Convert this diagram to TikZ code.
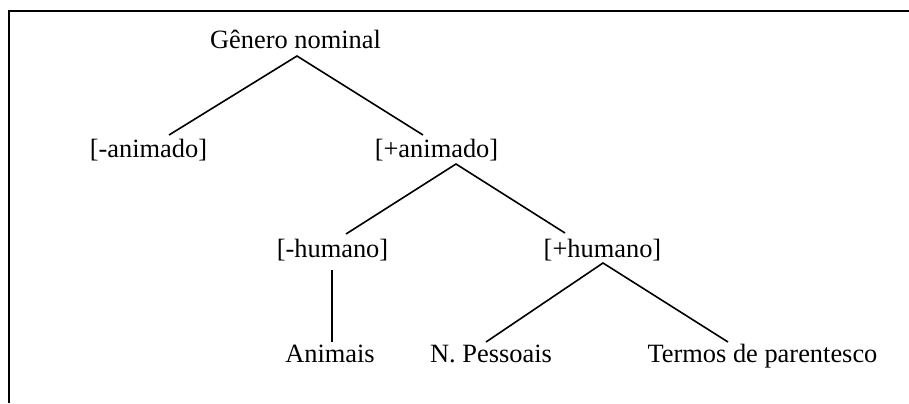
\documentclass[tikz,border=0pt]{standalone}
\usepackage{fontspec}
\setmainfont{Liberation Serif}
\usepackage{tikz}
\tikzset{
  font={\fontsize{13.2pt}{16pt}\selectfont}}

\begin{document}
\begin{tikzpicture}[x=0.5pt, y=-0.5pt, line width=0.8pt, feat/.style = {anchor=base, inner sep=0pt}]
\useasboundingbox (0,0) rectangle (909,403);
\draw (9,403) -- (9,11) -- (909,11);

\node[feat] (gen) at (295.5,48) {Gênero nominal};
\node[feat] (nanim) at (148.5,157) {[-animado]};
\node[feat] (panim) at (436.5,157) {[+animado]};
\node[feat] (nhum) at (332.5,257) {[-humano]};
\node[feat] (phum) at (602.5,257) {[+humano]};
\node[feat] (anim) at (330,362) {Animais};
\node[feat] (pess) at (491,362) {N. Pessoais};
\node[feat] (term) at (762.5,362) {Termos de parentesco};

\draw ([shift={(20.5,-22)}]nanim.base) -- ([shift={(1.5,8)}]gen.base) -- ([shift={(-13.5,-22)}]panim.base);
\draw ([shift={(13.5,-23)}]nhum.base) -- ([shift={(19.5,7)}]panim.base) -- ([shift={(-37.5,-24)}]phum.base);
\draw ([shift={(-0.5,13)}]nhum.base) -- ([shift={(2,-20)}]anim.base);
\draw ([shift={(-5,-20)}]pess.base) -- ([shift={(0.5,6)}]phum.base) -- ([shift={(-34.5,-20)}]term.base);
\end{tikzpicture}
\end{document}
